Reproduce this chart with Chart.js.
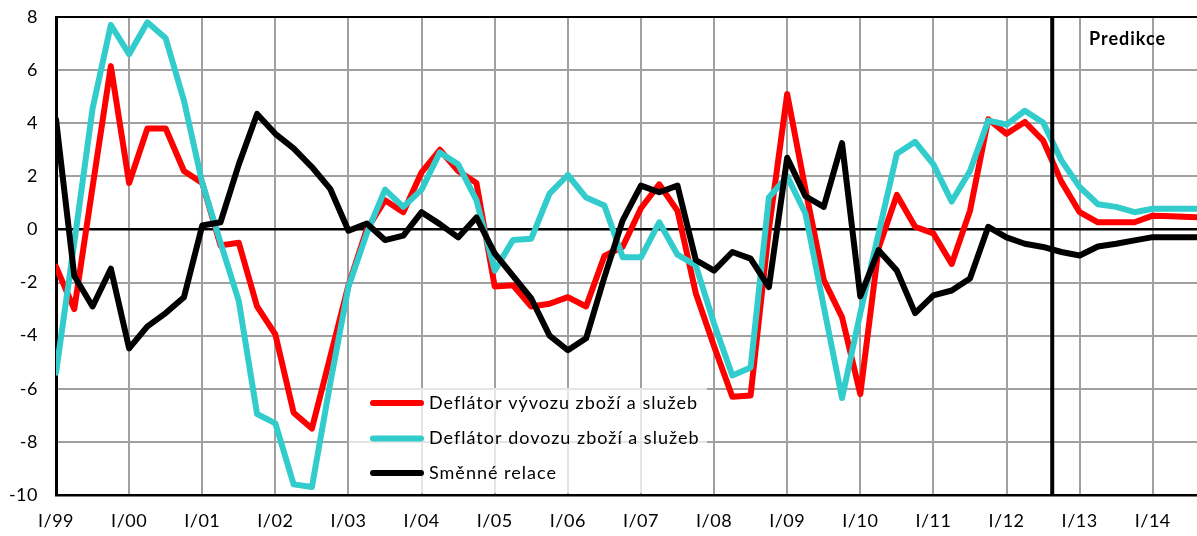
<!DOCTYPE html>
<html><head><meta charset="utf-8">
<script src="https://cdn.jsdelivr.net/npm/chart.js@4.4.1/dist/chart.umd.min.js"></script>
<style>html,body{margin:0;padding:0;background:#fff;} canvas{display:block;}</style>
</head><body>
<canvas id="c" width="1197" height="536"></canvas>
<script>
// Quarterly categories I/99 ... IV/14
const years = ['99','00','01','02','03','04','05','06','07','08','09','10','11','12','13','14'];
const quarterNames = ['I','II','III','IV'];
const quarters = [];
years.forEach(y => quarterNames.forEach(q => quarters.push(q + '/' + y)));

// Axis tick labels
const yearTicks = ['I/99','I/00','I/01','I/02','I/03','I/04','I/05','I/06','I/07','I/08','I/09','I/10','I/11','I/12','I/13','I/14'];

// Series
const exportDeflator = [
 -1.4, -3.0, 1.6, 6.15, 1.75, 3.8, 3.8, 2.2,
 1.75, -0.6, -0.5, -2.9, -3.95, -6.9, -7.5, -4.8,
 -2.1, 0.0, 1.1, 0.65, 2.15, 3.0, 2.2, 1.75,
 -2.15, -2.1, -2.9, -2.8, -2.55, -2.9, -1.0, -0.65,
 0.8, 1.7, 0.7, -2.4, -4.4, -6.3, -6.25, 0.0,
 5.1, 1.5, -1.9, -3.3, -6.2, -0.7, 1.3, 0.1,
 -0.15, -1.3, 0.7, 4.15, 3.6, 4.05, 3.35, 1.8,
 0.65, 0.27, 0.27, 0.27, 0.52, 0.5, 0.47, 0.45
];
const importDeflator = [
 -5.4, -0.5, 4.55, 7.7, 6.6, 7.8, 7.2, 4.85,
 1.75, -0.5, -2.7, -6.95, -7.3, -9.6, -9.7, -5.8,
 -2.15, -0.15, 1.5, 0.85, 1.5, 2.9, 2.45, 1.1,
 -1.55, -0.4, -0.35, 1.35, 2.05, 1.2, 0.9, -1.05,
 -1.05, 0.27, -0.95, -1.35, -3.55, -5.5, -5.2, 1.2,
 2.0, 0.6, -2.9, -6.35, -3.15, -0.15, 2.85, 3.3,
 2.45, 1.05, 2.2, 4.1, 3.95, 4.47, 4.03, 2.6,
 1.6, 0.95, 0.85, 0.65, 0.78, 0.78, 0.78, 0.78
];
const termsOfTrade = [
 4.15, -1.75, -2.9, -1.48, -4.48, -3.65, -3.15, -2.55,
 0.15, 0.27, 2.45, 4.35, 3.6, 3.05, 2.35, 1.53,
 -0.05, 0.22, -0.4, -0.23, 0.65, 0.2, -0.3, 0.45,
 -0.9, -1.75, -2.6, -4.0, -4.55, -4.1, -1.8, 0.34,
 1.65, 1.4, 1.65, -1.15, -1.55, -0.85, -1.1, -2.17,
 2.7, 1.25, 0.85, 3.25, -2.52, -0.78, -1.55, -3.15,
 -2.48, -2.3, -1.85, 0.1, -0.3, -0.54, -0.66, -0.85,
 -0.98, -0.64, -0.54, -0.41, -0.29, -0.29, -0.29, -0.29
];

const seriesNames = ['Deflátor vývozu zboží a služeb', 'Deflátor dovozu zboží a služeb', 'Směnné relace'];
const seriesColors = ['#ff0000', '#33cccc', '#000000'];
const forecastStart = (quarters.indexOf('III/12') + quarters.indexOf('IV/12')) / 2;
const X_MAX = 62.42; // visible range (chart cropped at right)

const toXY = arr => arr.map((v, i) => ({x: i, y: v}));
const FONT = 'Lato';

const overlay = {
  id: 'overlay',
  beforeLayout(chart) { chart.ctx.letterSpacing = '0.5px'; },
  beforeDraw(chart) { chart.ctx.letterSpacing = '0.5px'; },
  beforeDatasetsDraw(chart) {
    const ctx = chart.ctx;
    ctx.save();
    ctx.fillStyle = 'rgba(255,255,255,0.72)';
    ctx.fillRect(349, 388, 358, 105);
    ctx.restore();
  },
  afterDatasetsDraw(chart) {
    const {ctx, chartArea, scales} = chart;
    const px = scales.x.getPixelForValue(forecastStart);
    ctx.save();
    ctx.strokeStyle = '#000';
    ctx.lineWidth = 4;
    ctx.beginPath();
    ctx.moveTo(px, chartArea.top);
    ctx.lineTo(px, chartArea.bottom);
    ctx.stroke();
    ctx.fillStyle = '#000';
    ctx.letterSpacing = '1px';
    ctx.font = 'bold 18px ' + FONT;
    ctx.textBaseline = 'middle';
    ctx.textAlign = 'left';
    ctx.fillText('Predikce', 1089, 39);
    // legend
    const rows = [403, 438.5, 473];
    ctx.font = '18px ' + FONT;
    ctx.lineCap = 'round';
    chart.data.datasets.forEach((ds, k) => {
      const y = rows[k];
      ctx.strokeStyle = ds.borderColor;
      ctx.lineWidth = 6;
      ctx.beginPath();
      ctx.moveTo(373, y);
      ctx.lineTo(421, y);
      ctx.stroke();
      ctx.fillStyle = '#000';
      ctx.fillText(ds.label, 429, y);
    });
    ctx.restore();
  }
};

new Chart(document.getElementById('c'), {
  type: 'line',
  data: {
    datasets: [
      {label: seriesNames[0], data: toXY(exportDeflator), borderColor: seriesColors[0], order: 3},
      {label: seriesNames[1], data: toXY(importDeflator), borderColor: seriesColors[1], order: 2},
      {label: seriesNames[2], data: toXY(termsOfTrade), borderColor: seriesColors[2], order: 1}
    ]
  },
  options: {
    responsive: false,
    animation: false,
    devicePixelRatio: 1,
    layout: {padding: {top: 17, right: 0, left: 0, bottom: 0}},
    elements: {
      line: {borderWidth: 6, tension: 0, borderJoinStyle: 'round', borderCapStyle: 'round', fill: false},
      point: {radius: 0, hoverRadius: 0}
    },
    plugins: {legend: {display: false}, tooltip: {enabled: false}},
    scales: {
      x: {
        type: 'linear',
        min: 0,
        max: X_MAX,
        afterBuildTicks: s => { s.ticks = yearTicks.map((_, k) => ({value: k * 4})); },
        afterFit: s => { s.height = 41; },
        ticks: {
          autoSkip: false,
          maxRotation: 0,
          padding: 15,
          color: '#000',
          font: {family: FONT, size: 18},
          callback: v => yearTicks[v / 4]
        },
        grid: {color: '#a0a0a0', lineWidth: 2, drawTicks: false},
        border: {display: true, color: '#000', width: 2.5}
      },
      y: {
        min: -10,
        max: 8,
        afterFit: s => { s.width = 56; },
        ticks: {
          stepSize: 2,
          padding: 2,
          color: '#000',
          font: {family: FONT, size: 18}
        },
        grid: {
          drawTicks: true,
          tickLength: 16,
          tickColor: 'rgba(0,0,0,0)',
          color: c => (c.tick && (c.tick.value === 0 || c.tick.value === 8)) ? '#000' : '#a0a0a0',
          lineWidth: c => (c.tick && c.tick.value === 0) ? 2.5 : 2
        },
        border: {display: true, color: '#000', width: 3}
      }
    }
  },
  plugins: [overlay]
});
</script>
</body></html>
